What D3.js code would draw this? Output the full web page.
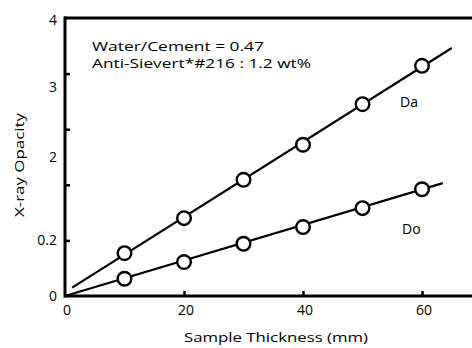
<!DOCTYPE html>
<html><head><meta charset="utf-8">
<script src="https://cdn.jsdelivr.net/npm/d3@7"></script>
<style>
html,body{margin:0;padding:0;background:#fff;}
svg{display:block;font-family:"Open Sans",sans-serif;}
</style></head>
<body><svg id="c" width="472" height="348"></svg>
<script>
// ---- data ----
const thickness = [10, 20, 30, 40, 50, 60];
const daValues = [0.77, 1.40, 2.09, 2.72, 3.45, 4.14];
const doValues = [0.31, 0.61, 0.94, 1.24, 1.58, 1.92];
const daFitX = [1.2, 65];
const daFitY = [0.15, 4.46];
const doFitX = [0, 63.5];
const doFitY = [0, 2.03];
const xTickValues = [0, 20, 40, 60];
const xTickLabels = ["0", "20", "40", "60"];
const yTickValues = [1, 2, 3, 4];
const yLabelText = ["0", "0.2", "2", "3", "4"];
const yLabelPos = [0, 1, 2.5, 3.76, 4.97];
const notes = ["Water/Cement = 0.47", "Anti-Sievert\u002A#216 : 1.2 wt%"];

const svg = d3.select("#c");
const x = d3.scaleLinear().domain([0, 68.4]).range([65, 472]);
const y = d3.scaleLinear().domain([0, 5]).range([296, 18]);

// lines
const line = d3.line().x(d => x(d[0])).y(d => y(d[1]));
svg.append("path").attr("d", line(d3.zip(daFitX, daFitY)))
  .attr("fill", "none").attr("stroke", "#000").attr("stroke-width", 2.2);
svg.append("path").attr("d", line(d3.zip(doFitX, doFitY)))
  .attr("fill", "none").attr("stroke", "#000").attr("stroke-width", 2.2);

// points
[daValues, doValues].forEach(vals => {
  svg.append("g").selectAll("circle").data(d3.zip(thickness, vals)).join("circle")
    .attr("cx", d => x(d[0])).attr("cy", d => y(d[1])).attr("r", 6.8)
    .attr("fill", "#fff").attr("stroke", "#000").attr("stroke-width", 2.4);
});

// axes
const xAxis = d3.axisBottom(x).tickValues(xTickValues.slice(1)).tickSize(-5).tickFormat("");
const gx = svg.append("g").attr("transform", "translate(0,296)").call(xAxis);
gx.select(".domain").remove();
gx.selectAll("line").attr("stroke-width", 2.5);
const yAxis = d3.axisLeft(y).tickValues(yTickValues).tickSize(-5).tickFormat("");
const gy = svg.append("g").attr("transform", "translate(65,0)").call(yAxis);
gy.select(".domain").remove();
gy.selectAll("line").attr("stroke-width", 2.5);

svg.append("line").attr("x1", 65).attr("x2", 472).attr("y1", y(0)).attr("y2", y(0))
  .attr("stroke", "#000").attr("stroke-width", 3);
svg.append("line").attr("x1", 65).attr("x2", 65).attr("y1", y(0) + 1.5).attr("y2", y(5) - 1.5)
  .attr("stroke", "#000").attr("stroke-width", 3);
svg.append("line").attr("x1", 64).attr("x2", 472).attr("y1", y(5)).attr("y2", y(5))
  .attr("stroke", "#000").attr("stroke-width", 3);

// tick labels
svg.append("g").selectAll("text").data(d3.zip(xTickValues, xTickLabels)).join("text")
  .attr("x", d => x(d[0]) + 2).attr("y", 315)
  .attr("text-anchor", "middle").attr("font-size", 14).text(d => d[1]);
svg.append("g").selectAll("text").data(d3.zip(yLabelPos, yLabelText)).join("text")
  .attr("x", 57).attr("y", d => y(d[0]) + 5)
  .attr("text-anchor", "end").attr("font-size", 14).text(d => d[1]);

// axis titles
svg.append("text").attr("x", 276).attr("y", 342).attr("text-anchor", "middle")
  .attr("font-size", 13).attr("textLength", 184).attr("lengthAdjust", "spacingAndGlyphs")
  .text("Sample Thickness (mm)");
svg.append("text").attr("transform", "translate(24,165) rotate(-90)").attr("text-anchor", "middle")
  .attr("font-size", 13).attr("textLength", 104).attr("lengthAdjust", "spacingAndGlyphs")
  .text("X-ray Opacity");

// annotations
svg.append("text").attr("x", 92).attr("y", 51).attr("font-size", 12)
  .attr("textLength", 172).attr("lengthAdjust", "spacingAndGlyphs").text(notes[0]);
svg.append("text").attr("x", 92).attr("y", 68).attr("font-size", 12)
  .attr("textLength", 219).attr("lengthAdjust", "spacingAndGlyphs").text(notes[1]);
svg.append("text").attr("x", 400).attr("y", 107).attr("font-size", 14).text("Da");
svg.append("text").attr("x", 402).attr("y", 234).attr("font-size", 14).text("Do");
</script></body></html>
